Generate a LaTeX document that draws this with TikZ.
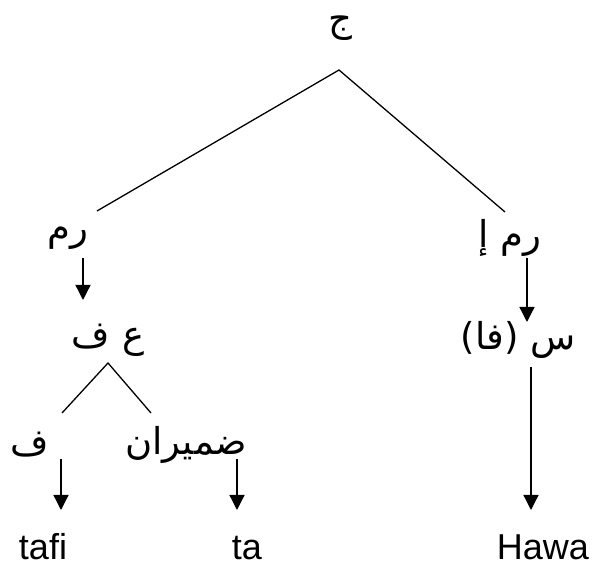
\documentclass[tikz,border=0pt]{standalone}
\usepackage{fontspec}
\setmainfont{Liberation Sans}
\newfontfamily\arabicfont[Script=Arabic]{DejaVu Sans}
\TeXXeTstate=1
\usetikzlibrary{arrows.meta}
\begin{document}
\begin{tikzpicture}[x=1pt,y=1pt,
  ar/.style={font=\arabicfont\fontsize{37}{42}\selectfont, inner sep=0pt},
  la/.style={font=\fontsize{36}{40}\selectfont, inner sep=0pt, anchor=base},
  edge/.style={line width=1.3pt},
  arr/.style={line width=1.3pt, -{Triangle[width=15pt,length=15pt]}}]
\useasboundingbox (0,0) rectangle (592,572);
% nodes
\node[ar] (j) at (340,544) {\beginR ج\endR};
\node[ar] (rm) at (68,334) {\beginR رم\endR};
\node[ar] (rmi) at (510,334) {\beginR رم إ\endR};
\node[ar] (af) at (108,232) {\beginR ع ف\endR};
\node[ar] (sfa) at (518,232) {\beginR س (فا)\endR};
\node[ar] (f) at (30,127) {\beginR ف\endR};
\node[ar] (dam) at (186,127) {\beginR ضميران\endR};
\node[la] (tafi) at (43,12) {tafi};
\node[la] (ta) at (247,12) {ta};
\node[la] (hawa) at (543,12) {Hawa};
% tree coordinates
\coordinate (ap1) at (339,502);
\coordinate (l1) at (97,361);
\coordinate (r1) at (505,360);
\coordinate (ap2) at (108,209);
\coordinate (l2) at (62,159);
\coordinate (r2) at (151,159);
% arrow coordinates
\coordinate (a1s) at (83,314);  \coordinate (a1e) at (83,272);
\coordinate (a2s) at (527,314); \coordinate (a2e) at (527,250);
\coordinate (a3s) at (531,205); \coordinate (a3e) at (531,62);
\coordinate (a4s) at (61,113);  \coordinate (a4e) at (61,62);
\coordinate (a5s) at (237,113); \coordinate (a5e) at (237,62);
% tree lines
\draw[edge] (l1) -- (ap1) -- (r1);
\draw[edge] (l2) -- (ap2) -- (r2);
% arrows
\draw[arr] (a1s) -- (a1e);
\draw[arr] (a2s) -- (a2e);
\draw[arr] (a3s) -- (a3e);
\draw[arr] (a4s) -- (a4e);
\draw[arr] (a5s) -- (a5e);
\end{tikzpicture}
\end{document}
